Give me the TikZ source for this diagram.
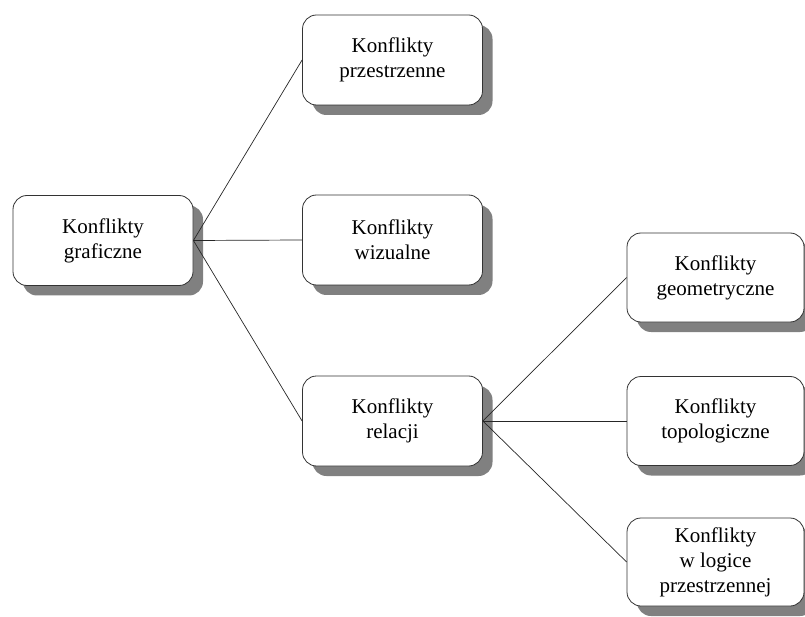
\documentclass[tikz,border=0pt]{standalone}
\usepackage{fontspec}
\setmainfont{Liberation Serif}
\usetikzlibrary{shadows}
\begin{document}
\begin{tikzpicture}[x=1pt,y=-1pt,
  box/.style={draw=black!80, fill=white, rounded corners=14pt,
    minimum width=180pt, minimum height=90pt, inner sep=0pt,
    align=center, font=\fontsize{21}{25}\selectfont, line width=0.8pt,
    drop shadow={shadow xshift=10pt, shadow yshift=-10pt, fill=black!50, opacity=1}},
  link/.style={draw=black!85, line width=0.7pt}]
\useasboundingbox (0,0) rectangle (805,617);
% root and first level
\node[box] (g) at (103,240.5) {Konflikty\\graficzne};
\node[box] (p) at (392.5,60) {Konflikty\\przestrzenne};
\node[box] (w) at (392.5,240) {Konflikty\\wizualne};
\node[box] (r) at (392.5,421) {Konflikty\\relacji};
% second level
\node[box, minimum width=177pt, minimum height=89pt] (geo) at (715.5,277.5) {Konflikty\\geometryczne};
\node[box, minimum width=177pt, minimum height=89pt] (topo) at (715.5,421) {Konflikty\\topologiczne};
\node[box, minimum width=177pt, minimum height=88pt] (log) at (715.5,562) {Konflikty\\w logice\\przestrzennej};
% connectors
\draw[link] (g.east) -- (p.west);
\draw[link] (g.east) -- (w.west);
\draw[link] (g.east) -- (r.west);
\draw[link] (r.east) -- (geo.west);
\draw[link] (r.east) -- (topo.west);
\draw[link] (r.east) -- (log.west);
\end{tikzpicture}
\end{document}
